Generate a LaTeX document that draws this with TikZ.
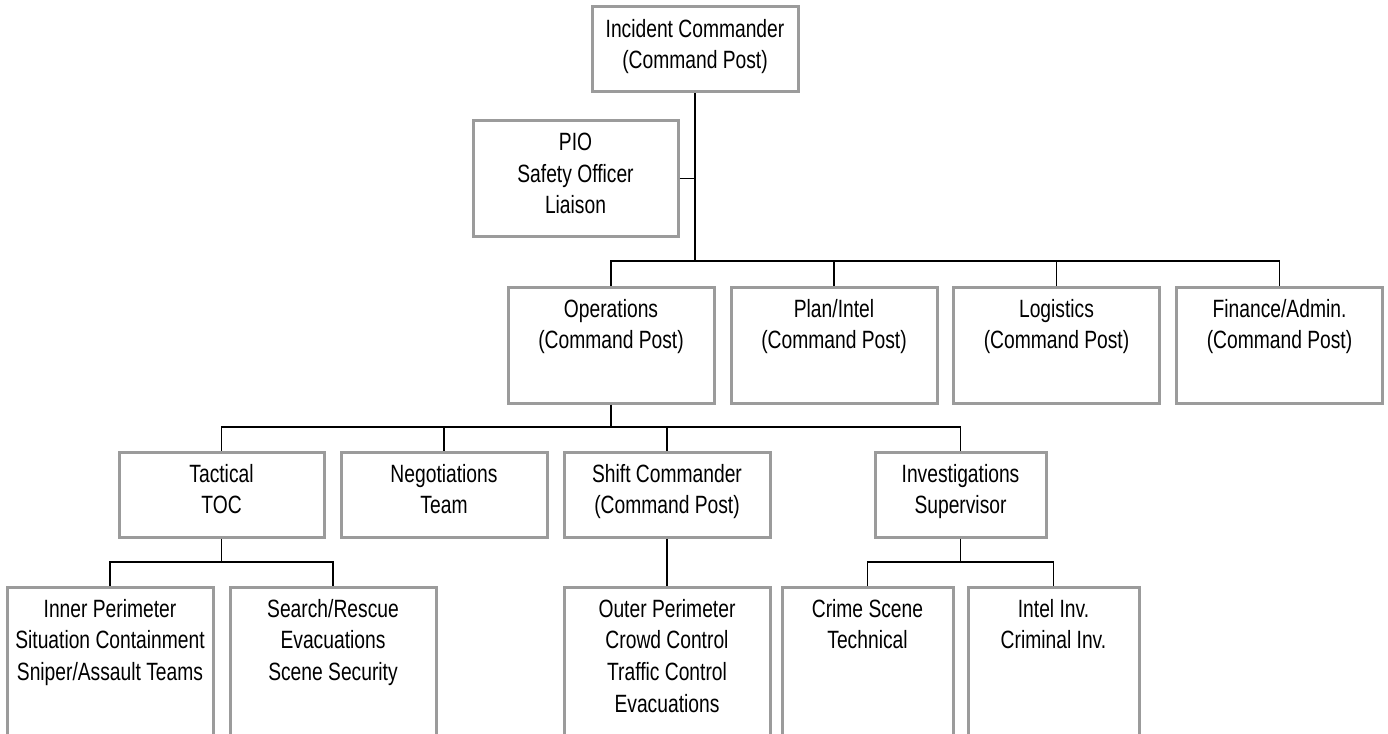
\documentclass[tikz,border=0pt]{standalone}
\usepackage{fontspec}
\setmainfont{Liberation Sans}[FakeStretch=0.77]
\definecolor{boxgray}{RGB}{155,155,155}
\newcommand{\boxlines}[3]{\parbox[c][#2pt][t]{#1pt}{\centering\vspace*{12pt}#3}}

\begin{document}
\begin{tikzpicture}[x=1pt, y=-1pt,
    unit/.style={draw=boxgray, line width=3pt, inner sep=0pt, font=\fontsize{25}{31.7}\selectfont},
    link/.style={line width=1.3pt}]
    \clip (0,0) rectangle (1388,733);
    \coordinate (bus1) at (0,261);
    \coordinate (bus2) at (0,427);
    \coordinate (bus3) at (0,562);

    \node[unit] (ic) at (695,49.5) {\boxlines{206}{85}{Incident Commander\\(Command Post)}};
    \node[unit] (pio) at (575.5,178.5) {\boxlines{205}{115}{PIO\\Safety Officer\\Liaison}};

    \node[unit] (ops) at (611,345) {\boxlines{206}{116}{Operations\\(Command Post)}};
    \node[unit] (plan) at (834,345) {\boxlines{206}{116}{Plan/Intel\\(Command Post)}};
    \node[unit] (log) at (1056.5,345) {\boxlines{206}{116}{Logistics\\(Command Post)}};
    \node[unit] (fin) at (1279.5,345) {\boxlines{206}{116}{Finance/Admin.\\(Command Post)}};

    \node[unit] (tac) at (221.5,494.5) {\boxlines{205}{85}{Tactical\\TOC}};
    \node[unit] (neg) at (444,494.5) {\boxlines{206}{85}{Negotiations\\Team}};
    \node[unit] (shift) at (667,494.5) {\boxlines{206}{85}{Shift Commander\\(Command Post)}};
    \node[unit] (inv) at (960.5,494.5) {\boxlines{171}{85}{Investigations\\Supervisor}};

    \node[unit] (inner) at (110,687) {\boxlines{206}{200}{Inner Perimeter\\Situation Containment\\Sniper/Assault Teams}};
    \node[unit] (search) at (333,687) {\boxlines{206}{200}{Search/Rescue\\Evacuations\\Scene Security}};
    \node[unit] (outer) at (667,687) {\boxlines{206}{200}{Outer Perimeter\\Crowd Control\\Traffic Control\\Evacuations}};
    \node[unit] (crime) at (867.5,687) {\boxlines{171}{200}{Crime Scene\\Technical}};
    \node[unit] (intel) at (1053.5,687) {\boxlines{171}{200}{Intel Inv.\\Criminal Inv.}};

    \draw[link] (ic) -- (ic |- bus1);
    \draw[link] (pio) -- (pio -| ic);
    \draw[link] (ops) |- (fin |- bus1) -- (fin);
    \foreach \n in {plan,log} \draw[link] (\n) -- (\n |- bus1);

    \draw[link] (ops) -- (ops |- bus2);
    \draw[link] (tac) |- (inv |- bus2) -- (inv);
    \foreach \n in {neg,shift} \draw[link] (\n) -- (\n |- bus2);

    \draw[link] (tac) -- (tac |- bus3);
    \draw[link] (inner) |- (search |- bus3) -- (search);
    \draw[link] (shift) -- (outer);
    \draw[link] (inv) -- (inv |- bus3);
    \draw[link] (crime) |- (intel |- bus3) -- (intel);
\end{tikzpicture}
\end{document}
